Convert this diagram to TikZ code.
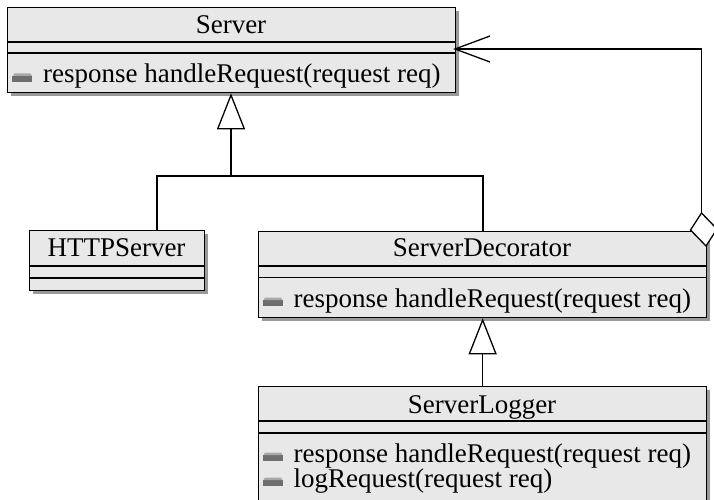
\documentclass[tikz,border=0pt]{standalone}
\usepackage{fontspec}
\setmainfont{Liberation Serif}
\usetikzlibrary{shadows,arrows.meta}
\definecolor{classfill}{HTML}{E8E8E8}
\definecolor{iconfill}{HTML}{6E6E6E}
\definecolor{icontop}{HTML}{A8A8A8}
\tikzset{
  classbox/.style={draw, fill=classfill, line width=1.3pt, inner sep=0pt,
    anchor=north west,
    drop shadow={shadow xshift=3pt, shadow yshift=-3pt, fill=black!40, opacity=1}},
  classname/.style={inner sep=0pt, anchor=base},
  optext/.style={inner sep=0pt, anchor=base west},
  conn/.style={line width=1.3pt},
  gentip/.style={conn, -{Triangle[open, length=36pt, width=28pt, line width=1.3pt]}},
  opicon/.pic={
    \fill[iconfill] (-31,-1) rectangle (-11,-7);
    \fill[icontop] (-30,-7) -- (-11,-7) -- (-12.5,-9.5) -- (-28.5,-9.5) -- cycle;
  }
}
\begin{document}
\begin{tikzpicture}[x=1pt, y=-1pt, font=\fontsize{27}{32}\selectfont]
  \clip (0,0) rectangle (714,500);
  \fill[white] (0,0) rectangle (714,500);

  % Server
  \node[classbox, minimum width=448pt, minimum height=85pt] (server) at (7,7) {};
  \draw[conn] (7,42) -- (455,42) (7,53) -- (455,53);
  \node[classname] (server-name) at (231,34) {Server};
  \node[optext] (server-op) at (43,83) {response handleRequest(request req)};
  \pic at (server-op.base west) {opicon};

  % HTTPServer
  \node[classbox, minimum width=175pt, minimum height=60pt] (httpserver) at (29,230) {};
  \draw[conn] (29,266) -- (204,266) (29,278) -- (204,278);
  \node[classname] (httpserver-name) at (116.5,256) {HTTPServer};

  % ServerDecorator
  \node[classbox, minimum width=448pt, minimum height=86pt] (decorator) at (258,231) {};
  \draw[conn] (258,266) -- (706,266) (258,277.5) -- (706,277.5);
  \node[classname] (decorator-name) at (482,256.5) {ServerDecorator};
  \node[optext] (decorator-op) at (293.5,307) {response handleRequest(request req)};
  \pic at (decorator-op.base west) {opicon};

  % ServerLogger
  \node[classbox, minimum width=448pt, minimum height=130pt] (logger) at (258,386) {};
  \draw[conn] (258,421) -- (706,421) (258,433) -- (706,433);
  \node[classname] (logger-name) at (482,413) {ServerLogger};
  \node[optext] (logger-op1) at (293.5,462) {response handleRequest(request req)};
  \pic at (logger-op1.base west) {opicon};
  \node[optext] (logger-op2) at (293.5,487) {logRequest(request req)};
  \pic at (logger-op2.base west) {opicon};

  % generalisation: HTTPServer, ServerDecorator -> Server
  \coordinate (busL) at (157,176);
  \coordinate (busM) at (231,176);
  \coordinate (busR) at (483,176);
  \draw[conn] (httpserver.north -| busL) -- (busL) -- (busR) -- (decorator.north -| busR);
  \draw[gentip] (busM) -- (server.south -| busM);

  % generalisation: ServerLogger -> ServerDecorator
  \draw[gentip] (logger.north) -- (decorator.south);

  % aggregation: ServerDecorator holds a Server
  \coordinate (aggtop) at (701.5,213);
  \coordinate (aggbend) at (701.5,49);
  \coordinate (assoctip) at (455,49);
  \draw[conn] (aggtop) -- (aggbend) -- (assoctip);
  \draw[conn] (assoctip) ++(35,-13) -- (assoctip) -- ++(35,13);
  \filldraw[conn, fill=white, line join=miter] (aggtop) -- (690.5,230) -- (706,246) -- (717,229) -- cycle;
\end{tikzpicture}
\end{document}
